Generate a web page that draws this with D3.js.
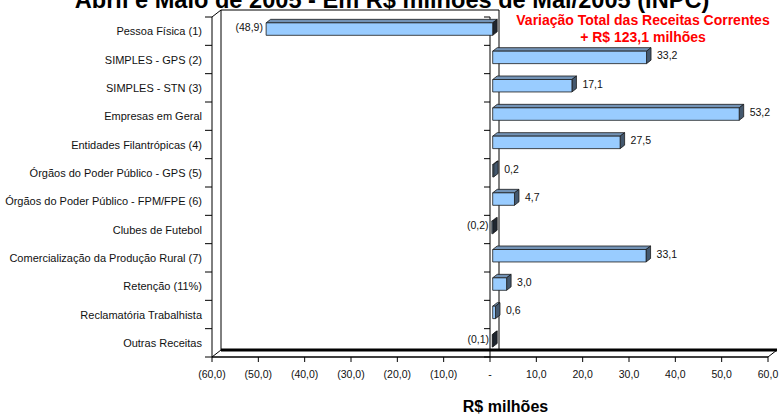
<!DOCTYPE html>
<html>
<head>
<meta charset="utf-8">
<script src="https://cdn.jsdelivr.net/npm/d3@7"></script>
<style>
  html, body { margin: 0; padding: 0; background: #fff; }
  svg { display: block; font-family: "Liberation Sans", Arial, sans-serif; }
</style>
</head>
<body>
<svg id="chart" width="779" height="414"></svg>
<script>
// Receitas: variação por origem (R$ milhões)
const categories = [
  "Pessoa Física (1)",
  "SIMPLES - GPS (2)",
  "SIMPLES - STN (3)",
  "Empresas em Geral",
  "Entidades Filantrópicas (4)",
  "Órgãos do Poder Público - GPS (5)",
  "Órgãos do Poder Público - FPM/FPE (6)",
  "Clubes de Futebol",
  "Comercialização da Produção Rural (7)",
  "Retenção (11%)",
  "Reclamatória Trabalhista",
  "Outras Receitas"
];
const values = [-48.9, 33.2, 17.1, 53.2, 27.5, 0.2, 4.7, -0.2, 33.1, 3.0, 0.6, -0.1];
const xTicks = [-60, -50, -40, -30, -20, -10, 0, 10, 20, 30, 40, 50, 60];
const titleText = "Abril e Maio de 2005 - Em R$ milhões de Mai/2005 (INPC)";
const noteLines = ["Variação Total das Receitas Correntes", "+ R$ 123,1 milhões"];
const axisTitle = "R$ milhões";

const fmt = v => {
  if (v === 0) return "-";
  const s = Math.abs(v).toFixed(1).replace(".", ",");
  return v < 0 ? `(${s})` : s;
};

const svg = d3.select("#chart");

// front plane of the plot and the depth offset of the back wall
const x = d3.scaleLinear().domain([-60, 60]).range([212, 768]);
const y = d3.scaleBand().domain(categories).range([17, 357]);
const DX = 9, DY = -7;          // full depth offset
const T0 = 0.3, T1 = 0.8;       // bar front / back depth
const barH = y.bandwidth() * 0.44;

const yTop = y.range()[0], yBottom = y.range()[1];
const xLeft = x.range()[0], xRight = x.range()[1];

const line = (x1, y1, x2, y2, w = 1) =>
  svg.append("line").attr("x1", x1).attr("y1", y1).attr("x2", x2).attr("y2", y2)
    .attr("stroke", "#000").attr("stroke-width", w);

// back wall and floor edges
line(xLeft + DX, yTop + DY, xLeft + DX, yBottom + DY);
line(xLeft + DX, yTop + DY, x(0) + DX, yTop + DY);
line(x(0) + DX, yTop + DY, x(0) + DX, yBottom + DY);
line(xLeft + DX, yBottom + DY, xRight + DX, yBottom + DY, 3);
line(xLeft, yTop, xLeft + DX, yTop + DY);
line(xLeft, yBottom, xLeft + DX, yBottom + DY);
line(xRight, yBottom, xRight + DX, yBottom + DY);

// front edges
line(xLeft, yTop, xLeft, yBottom);
line(xLeft, yBottom, xRight, yBottom, 1.4);
line(x(0), yTop, x(0), yBottom);

// category ticks on both vertical axes
const bounds = categories.map(c => y(c)).concat([yBottom]);
bounds.forEach(b => {
  line(xLeft - 7, b, xLeft, b);
  line(x(0) - 6, b, x(0), b);
});

// value axis ticks and labels
xTicks.forEach(t => {
  line(x(t), yBottom, x(t), yBottom + 5);
  svg.append("text").attr("x", x(t)).attr("y", yBottom + 21)
    .attr("text-anchor", "middle").attr("font-size", 10.5).attr("fill", "#111")
    .text(fmt(t));
});

// category labels
categories.forEach(c => {
  svg.append("text").attr("x", xLeft - 10).attr("y", y(c) + y.bandwidth() / 2 + 4)
    .attr("text-anchor", "end").attr("font-size", 11).attr("fill", "#111")
    .text(c);
});

// 3D bars
const ddx = DX * (T1 - T0), ddy = DY * (T1 - T0);
const bars = svg.append("g");
categories.forEach((c, i) => {
  const v = values[i];
  const cy = y(c) + y.bandwidth() / 2 + DY * T0;
  const yt = cy - barH / 2, yb = cy + barH / 2;
  const xl = x(Math.min(0, v)) + DX * T0;
  const xr = x(Math.max(0, v)) + DX * T0;
  const g = bars.append("g").attr("stroke", "#1a1a1a").attr("stroke-width", 0.8)
    .attr("stroke-linejoin", "round");
  g.append("polygon")
    .attr("points", [[xl, yt], [xr, yt], [xr + ddx, yt + ddy], [xl + ddx, yt + ddy]].join(" "))
    .attr("fill", "#7393b6");
  g.append("polygon")
    .attr("points", [[xr, yt], [xr + ddx, yt + ddy], [xr + ddx, yb + ddy], [xr, yb]].join(" "))
    .attr("fill", v < 0 ? "#1f2630" : "#44586e");
  g.append("rect").attr("x", xl).attr("y", yt).attr("width", xr - xl).attr("height", barH)
    .attr("fill", "#99ccff");

  const ly = y(c) + y.bandwidth() / 2 - 4 + 3.8;
  if (v >= 0) {
    svg.append("text").attr("x", x(v) + DX * T1 + 6).attr("y", ly)
      .attr("font-size", 10.5).attr("fill", "#111").text(fmt(v));
  } else {
    svg.append("text").attr("x", x(v) - 0.5).attr("y", ly)
      .attr("text-anchor", "end").attr("font-size", 10.5).attr("fill", "#111").text(fmt(v));
  }
});

// title (its upper part runs off the page)
svg.append("text").attr("x", 392).attr("y", 7.5)
  .attr("text-anchor", "middle").attr("font-size", 23.6).attr("font-weight", "bold")
  .attr("fill", "#000").text(titleText);

// annotation
noteLines.forEach((t, i) => {
  svg.append("text").attr("x", 643).attr("y", 25 + i * 16.7)
    .attr("text-anchor", "middle").attr("font-size", 14).attr("font-weight", "bold")
    .attr("fill", "#ff0000").text(t);
});

// axis title
svg.append("text").attr("x", 505.5).attr("y", 412)
  .attr("text-anchor", "middle").attr("font-size", 16).attr("font-weight", "bold")
  .attr("fill", "#000").text(axisTitle);
</script>
</body>
</html>
